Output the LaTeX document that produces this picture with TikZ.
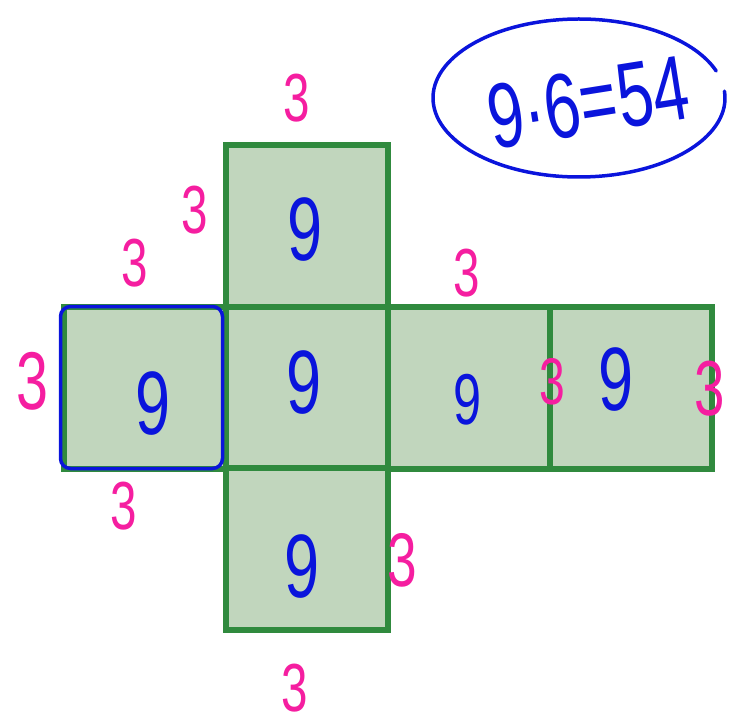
\documentclass[tikz,border=0pt]{standalone}
\usepackage{fontspec}
\usepackage{graphicx}
\newfontfamily\inkfont[FakeStretch=0.7]{Liberation Sans}
\newfontfamily\sumfont{Liberation Sans}
\definecolor{faceGreen}{RGB}{193,214,189}
\definecolor{edgeGreen}{RGB}{48,138,62}
\definecolor{inkBlue}{RGB}{10,20,220}
\definecolor{inkPink}{RGB}{245,30,160}
\begin{document}
\begin{tikzpicture}[x=1pt,y=-1pt,
        face/.style={draw=edgeGreen, fill=faceGreen, line width=6pt, minimum size=162pt, inner sep=0pt, outer sep=0pt},
        area/.style={text=inkBlue, font=\inkfont\fontsize{90}{90}\selectfont, inner sep=0pt},
        side/.style={text=inkPink, font=\inkfont\fontsize{68}{68}\selectfont, inner sep=0pt},
        pen/.style={draw=inkBlue, line width=3.5pt, line cap=round, line join=round}]
            \useasboundingbox (0,0) rectangle (742,722);
            \node[face] (sq0) at (307,226) {};
            \node[face] (sq1) at (144.5,387.5) {};
            \node[face] (sq2) at (307,387.5) {};
            \node[face] (sq3) at (469,387.5) {};
            \node[face] (sq4) at (631,387.5) {};
            \node[face] (sq5) at (307,549) {};
            \draw[pen, rounded corners=10pt] ([xshift=-3pt]sq1.north west) -- ([xshift=-3pt]sq1.north east) -- ([xshift=-3pt]sq1.south east) -- ([xshift=-3pt]sq1.south west) -- cycle;
            \node[area] (nine0) at (305,230) {9};
            \node[area] (nine1) at (153,404) {9};
            \node[area] (nine2) at (304,383) {9};
            \node[area, font=\inkfont\fontsize{72}{72}\selectfont] (nine3) at (468,400) {9};
            \node[area] (nine4) at (616,380) {9};
            \node[area] (nine5) at (302,567) {9};
            \node[side] (three0) at (297,98) {3};
            \node[side] (three1) at (195,210) {3};
            \node[side] (three2) at (135,263) {3};
            \node[side] (three3) at (467,273) {3};
            \node[side, font=\inkfont\fontsize{82}{82}\selectfont] (three4) at (32,381) {3};
            \node[side] (three5) at (124,506) {3};
            \node[side, font=\inkfont\fontsize{76}{76}\selectfont] (three6) at (402,560) {3};
            \node[side, font=\inkfont\fontsize{68}{68}\selectfont] (three7) at (295,688) {3};
            \node[side, font=\inkfont\fontsize{66}{66}\selectfont] (three8) at (552,382) {3};
            \node[side, font=\inkfont\fontsize{78}{78}\selectfont] (three9) at (710,389) {3};
            \draw[pen] (579,98) ++(-5:146 and 79) arc[start angle=-5, end angle=340, x radius=146, y radius=79];
            \node[area, font=\sumfont\fontsize{92}{92}\selectfont, rotate=9] (sum) at (588,102) {\scalebox{0.7}[1]{9·6=54}};
        \end{tikzpicture}
\end{document}
